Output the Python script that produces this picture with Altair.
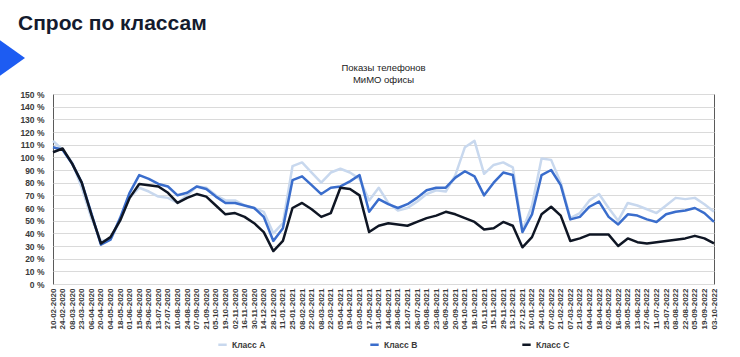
import altair as alt
import pandas as pd

heading = "Спрос по классам"
chart_title = ["Показы телефонов", "МиМО офисы"]

dates = [
    "10-02-2020", "24-02-2020", "08-03-2020", "23-03-2020", "06-04-2020", "20-04-2020",
    "04-05-2020", "18-05-2020", "01-06-2020", "15-06-2020", "29-06-2020", "13-07-2020",
    "27-07-2020", "10-08-2020", "24-08-2020", "07-09-2020", "21-09-2020", "05-10-2020",
    "19-10-2020", "02-11-2020", "16-11-2020", "30-11-2020", "14-12-2020", "28-12-2020",
    "11-01-2021", "25-01-2021", "08-02-2021", "22-02-2021", "08-03-2021", "22-03-2021",
    "05-04-2021", "19-04-2021", "03-05-2021", "17-05-2021", "31-05-2021", "14-06-2021",
    "28-06-2021", "12-07-2021", "26-07-2021", "09-08-2021", "23-08-2021", "06-09-2021",
    "20-09-2021", "04-10-2021", "18-10-2021", "01-11-2021", "15-11-2021", "29-11-2021",
    "13-12-2021", "27-12-2021", "10-01-2022", "24-01-2022", "07-02-2022", "21-02-2022",
    "07-03-2022", "21-03-2022", "04-04-2022", "18-04-2022", "02-05-2022", "16-05-2022",
    "30-05-2022", "13-06-2022", "27-06-2022", "11-07-2022", "25-07-2022", "08-08-2022",
    "22-08-2022", "05-09-2022", "19-09-2022", "03-10-2022",
]

class_a = [
    113, 106, 96, 76, 52, 34, 35, 50, 68, 76, 73, 69,
    68, 64, 70, 77, 76, 70, 66, 66, 62, 60, 57, 40,
    48, 93, 96, 88, 80, 88, 91, 88, 83, 66, 76, 64,
    58, 60, 65, 71, 74, 73, 86, 108, 113, 87, 94, 96,
    92, 42, 62, 99, 98, 80, 52, 56, 66, 71, 60, 50,
    64, 62, 59, 56, 62, 68, 67, 68, 63, 57,
]

class_b = [
    108, 106, 95, 80, 56, 31, 35, 52, 72, 86, 83, 79,
    77, 70, 72, 77, 75, 69, 64, 64, 62, 60, 53, 34,
    44, 82, 85, 78, 71, 76, 77, 81, 86, 57, 67, 63,
    60, 63, 68, 74, 76, 76, 84, 89, 85, 70, 80, 88,
    86, 41, 55, 86, 90, 78, 51, 53, 61, 65, 53, 47,
    55, 54, 51, 49, 55, 57, 58, 60, 56, 49,
]

class_c = [
    104, 107, 95, 80, 55, 32, 37, 50, 68, 79, 78, 77,
    72, 64, 68, 71, 69, 62, 55, 56, 53, 48, 41, 26,
    34, 60, 64, 59, 53, 56, 76, 75, 70, 41, 46, 48,
    47, 46, 49, 52, 54, 57, 55, 52, 49, 43, 44, 49,
    46, 29, 37, 55, 61, 54, 34, 36, 39, 39, 39, 30,
    36, 33, 32, 33, 34, 35, 36, 38, 36, 32,
]

series_names = ["Класс A", "Класс B", "Класс C"]
series_colors = ["#c8d8ee", "#3a6dcc", "#0f1624"]
y_ticks = list(range(0, 151, 10))

rows = []
for name, vals in zip(series_names, [class_a, class_b, class_c]):
    for d, v in zip(dates, vals):
        rows.append({"date": d, "series": name, "value": v})
df = pd.DataFrame(rows)

FONT = "Liberation Sans"
W, H = 661, 190

lines = alt.Chart(df).mark_line(strokeWidth=2.5, strokeJoin="round").encode(
    x=alt.X(
        "date:N",
        sort=dates,
        scale=alt.Scale(padding=0),
        axis=alt.Axis(
            title=None, labelAngle=-90, labelFontSize=8, labelFont=FONT,
            labelFontWeight="bold", labelColor="#3a3a3a", ticks=False,
            labelPadding=4, domain=False, grid=False, labelOverlap=False,
        ),
    ),
    y=alt.Y(
        "value:Q",
        scale=alt.Scale(domain=[0, 150], nice=False),
        axis=alt.Axis(
            title=None, values=y_ticks, labelExpr="datum.value + ' %'",
            labelFontSize=8.5, labelFont=FONT, labelFontWeight="bold",
            labelColor="#3a3a3a", ticks=False, domain=False, labelPadding=9,
            gridColor="#dadada", gridWidth=1,
        ),
    ),
    color=alt.Color(
        "series:N",
        scale=alt.Scale(domain=series_names, range=series_colors),
        legend=alt.Legend(
            title=None, orient="none", legendX=164, legendY=245,
            direction="horizontal", symbolType="stroke", symbolStrokeWidth=2.5,
            symbolSize=70, labelFontSize=8.5, labelFont=FONT, labelFontWeight="bold",
            labelColor="#3a3a3a", columnPadding=99,
        ),
    ),
)

one = pd.DataFrame({"t": [heading]})

head = alt.Chart(one).mark_text(
    font=FONT, fontSize=21, fontWeight="bold", color="#141b2e",
    align="left", baseline="alphabetic",
).encode(text="t:N", x=alt.value(18 - 53), y=alt.value(30 - 94))

title1 = alt.Chart(pd.DataFrame({"t": [chart_title[0]]})).mark_text(
    font=FONT, fontSize=9.5, color="#222222", align="center", baseline="middle",
).encode(text="t:N", x=alt.value(W / 2), y=alt.value(68 - 94))

title2 = alt.Chart(pd.DataFrame({"t": [chart_title[1]]})).mark_text(
    font=FONT, fontSize=9.5, color="#222222", align="center", baseline="middle",
).encode(text="t:N", x=alt.value(W / 2), y=alt.value(80 - 94))

badge = alt.Chart(one).mark_point(
    shape="M-0.7,-1L0.7,0L-0.7,1Z", filled=True, size=2500,
    color="#1d5cf2", opacity=1, strokeWidth=0,
).encode(x=alt.value(7.5 - 53), y=alt.value(58 - 94))

chart = alt.layer(lines, head, title1, title2, badge).properties(
    width=W,
    height=H,
    autosize=alt.AutoSizeParams(type="none"),
    padding={"left": 53, "top": 94, "right": 26, "bottom": 73},
    background="white",
).configure_view(
    stroke="#5a5a5a", strokeWidth=1
)

chart.save("out.html", embed_options={"renderer": "svg", "actions": False})
